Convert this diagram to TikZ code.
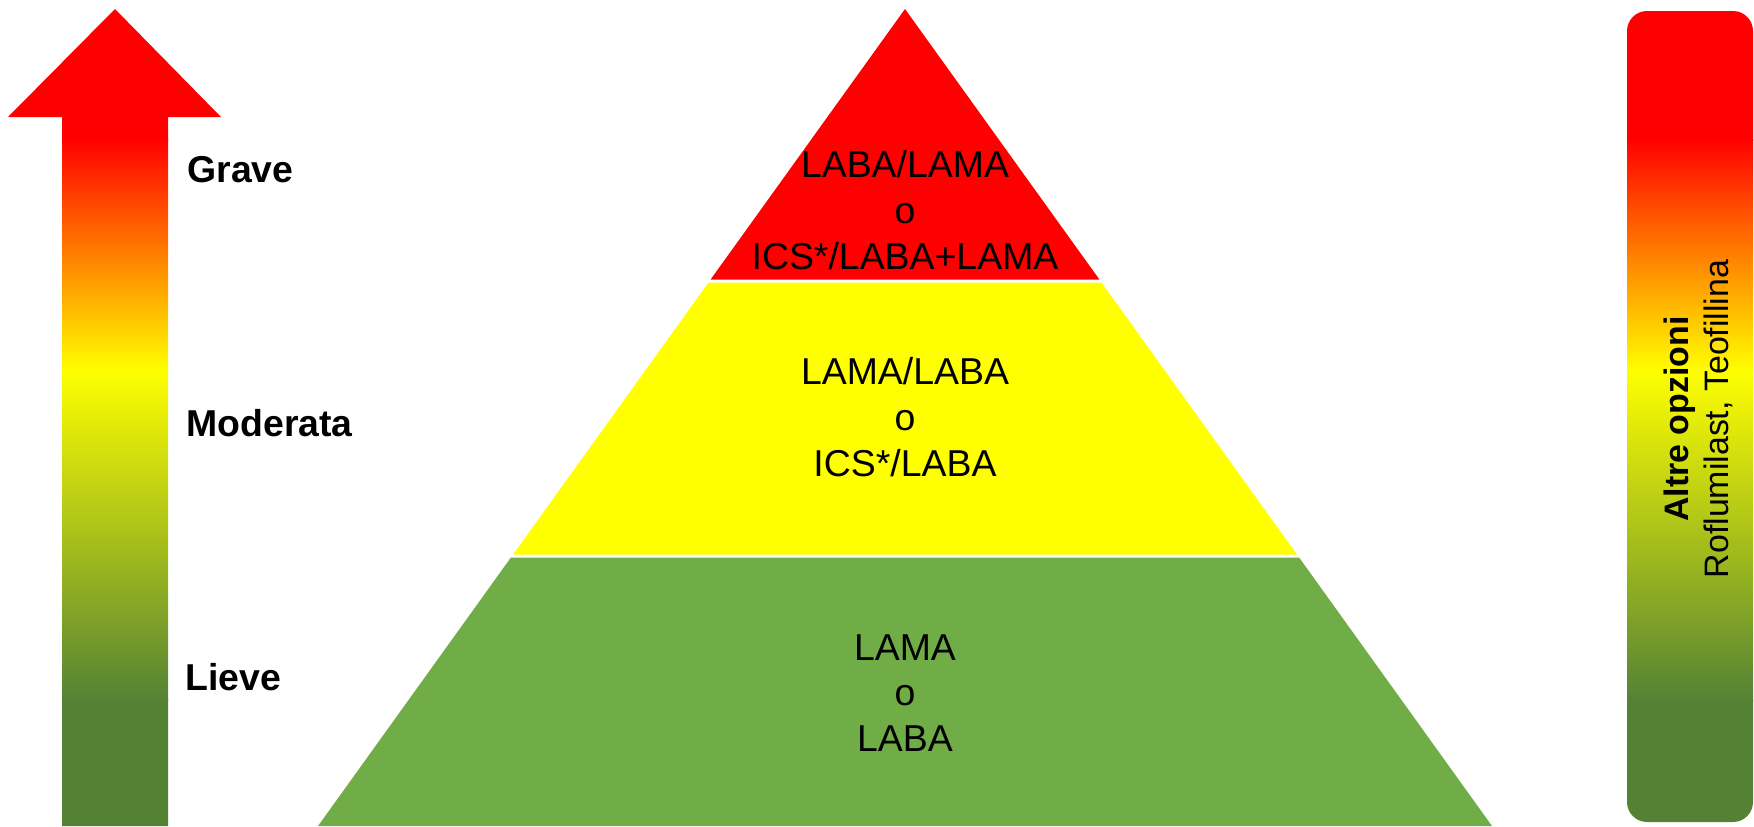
\documentclass[tikz,border=0pt]{standalone}
\usepackage{fontspec}
\setmainfont{Liberation Sans}
\definecolor{dkgreen}{HTML}{548235}
\definecolor{pyrgreen}{HTML}{70AD47}
\definecolor{pyrred}{HTML}{FF0000}
\definecolor{pyryellow}{HTML}{FFFF00}
\tikzset{
  pyrtext/.style={align=center, font=\fontsize{21.3}{26.1}\selectfont, inner sep=0pt, text=black},
  sevlabel/.style={anchor=west, font=\fontsize{21.3}{26}\selectfont\bfseries, inner sep=0pt, text=black},
  sidetext/.style={align=center, rotate=90, font=\fontsize{19.3}{22.7}\selectfont, inner sep=0pt, text=black},
}
\newcommand{\sevgrad}[2]{%
  \fill[dkgreen] (#1,699) rectangle (#2,830);
  \shade[bottom color=dkgreen, top color=pyryellow] (#1,701) rectangle (#2,369);
  \shade[bottom color=pyryellow, top color=pyrred] (#1,371) rectangle (#2,139);
  \fill[pyrred] (#1,-5) rectangle (#2,141);
}
\begin{document}
\begin{tikzpicture}[x=0.02cm, y=-0.02cm]
\useasboundingbox (0,0) rectangle (1754,826);

% gradient arrow
\begin{scope}
  \clip (115,9) -- (221,117) -- (168,117) -- (168,826) -- (62,826) -- (62,117) -- (8,117) -- cycle;
  \sevgrad{0}{240}
\end{scope}

% severity labels
\node[sevlabel] (grave) at (187,170) {Grave};
\node[sevlabel] (moderata) at (186,423) {Moderata};
\node[sevlabel] (lieve) at (185,677) {Lieve};

% pyramid
\fill[pyrred] (905,9) -- (1099.4,279.5) -- (710.6,279.5) -- cycle;
\fill[pyryellow] (708.5,282.5) -- (1101.5,282.5) -- (1296.9,554.5) -- (513.1,554.5) -- cycle;
\fill[pyrgreen] (510.9,557.5) -- (1299.1,557.5) -- (1492,826) -- (318,826) -- cycle;

\node[pyrtext] (top) at (905,210) {LABA/LAMA\\o\\ICS*/LABA+LAMA};
\node[pyrtext] (mid) at (905,417) {LAMA/LABA\\o\\ICS*/LABA};
\node[pyrtext] (base) at (905,693) {LAMA\\o\\LABA};

% right bar
\begin{scope}
  \clip[rounded corners=0.4cm] (1627,11) rectangle (1753,822);
  \sevgrad{1620}{1760}
\end{scope}
\node[sidetext] (altre) at (1698,419) {\textbf{Altre opzioni}\\Roflumilast, Teofillina};
\end{tikzpicture}
\end{document}
